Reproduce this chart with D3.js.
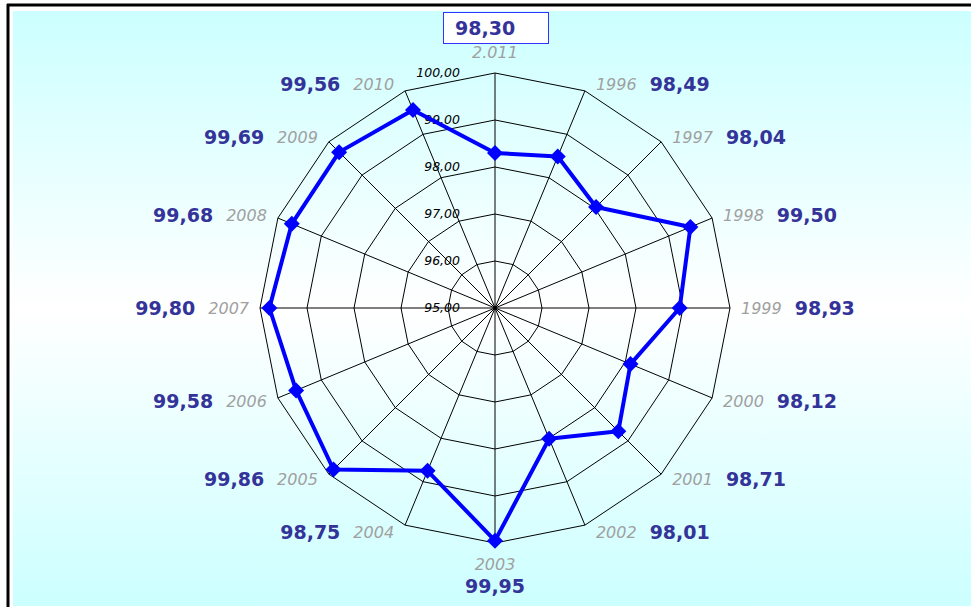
<!DOCTYPE html>
<html><head><meta charset="utf-8">
<script src="https://cdn.jsdelivr.net/npm/d3@7/dist/d3.min.js"></script>
<style>html,body{margin:0;padding:0;background:#fff;}svg{display:block;}</style>
</head><body>
<svg id="c" width="971" height="607"></svg>
<script>
const categories = ["2.011","1996","1997","1998","1999","2000","2001","2002","2003","2004","2005","2006","2007","2008","2009","2010"];
const values = [98.30,98.49,98.04,99.50,98.93,98.12,98.71,98.01,99.95,98.75,99.86,99.58,99.80,99.68,99.69,99.56];
const valueLabels = ["98,30","98,49","98,04","99,50","98,93","98,12","98,71","98,01","99,95","98,75","99,86","99,58","99,80","99,68","99,69","99,56"];
const ticks = [95,96,97,98,99,100];
const tickLabels = ["95,00","96,00","97,00","98,00","99,00","100,00"];

const svg = d3.select("#c");
const cx = 495, cy = 308, R = 235;

const defs = svg.append("defs");
const g = defs.append("linearGradient").attr("id","bg").attr("x1",0).attr("y1",0).attr("x2",0).attr("y2",1);
g.append("stop").attr("offset","0%").attr("stop-color","#ccffff");
g.append("stop").attr("offset","50%").attr("stop-color","#ffffff");
g.append("stop").attr("offset","100%").attr("stop-color","#ccffff");

svg.append("rect").attr("x",13).attr("y",11).attr("width",958).attr("height",595).attr("fill","url(#bg)");
svg.append("line").attr("x1",7).attr("x2",971).attr("y1",5).attr("y2",5).attr("stroke","#000").attr("stroke-width",3);
svg.append("line").attr("x1",8).attr("x2",8).attr("y1",4).attr("y2",607).attr("stroke","#000").attr("stroke-width",3);

const r = d3.scaleLinear().domain([95,100]).range([0,R]);
const ang = d3.scalePoint().domain(categories).range([0, 2*Math.PI*(categories.length-1)/categories.length]);
const pt = (c, v) => { const a = ang(c); return [cx + r(v)*Math.sin(a), cy - r(v)*Math.cos(a)]; };

const chart = svg.append("g");
// rings
ticks.slice(1).forEach(t => {
  chart.append("path")
    .attr("d", d3.line()(categories.map(c => pt(c, t))) + "Z")
    .attr("fill","none").attr("stroke","#000").attr("stroke-width",1);
});
// spokes
categories.forEach(c => {
  const p = pt(c, 100);
  chart.append("line").attr("x1",cx).attr("y1",cy).attr("x2",p[0]).attr("y2",p[1])
    .attr("stroke","#000").attr("stroke-width",1);
});
// tick labels
ticks.forEach((t,i) => {
  chart.append("text").attr("x", cx-35).attr("y", cy - r(t)).attr("dy","0.35em")
    .attr("text-anchor","end").attr("font-family","DejaVu Sans").attr("font-style","italic")
    .attr("font-size",12.5).attr("fill","#000").text(tickLabels[i]);
});
// series line
const pts = categories.map((c,i) => pt(c, values[i]));
chart.append("path").attr("d", d3.line()(pts) + "Z")
  .attr("fill","none").attr("stroke","#0000ff").attr("stroke-width",4).attr("stroke-linejoin","round");
chart.selectAll("path.mk").data(pts).enter().append("path").attr("class","mk")
  .attr("transform", d => `translate(${d[0]},${d[1]})`)
  .attr("d", d3.symbol().type(d3.symbolDiamond2 || d3.symbolSquare).size(110)())
  .attr("fill","#0000ff");
chart.selectAll("path.mk").attr("d","M0,-8L8,0L0,8L-8,0Z");

// category & value labels
categories.forEach((c,i) => {
  const a = ang(c);
  const s = Math.sin(a), co = Math.cos(a);
  const v = pt(c, 100);
  if (i === 0) {
    svg.append("text").attr("x", cx).attr("y", 58).attr("text-anchor","middle")
      .attr("font-family","DejaVu Sans").attr("font-style","italic").attr("font-size",16)
      .attr("fill","#a0a0a0").text(c);
    svg.append("rect").attr("x",443.5).attr("y",12.5).attr("width",105).attr("height",31)
      .attr("fill","#fff").attr("stroke","#3333ff").attr("stroke-width",1);
    svg.append("text").attr("x",455).attr("y",35).attr("font-family","DejaVu Sans").attr("font-weight","bold")
      .attr("font-size",19).attr("fill","#333399").text(valueLabels[i]);
    return;
  }
  if (Math.abs(s) < 1e-6) {
    svg.append("text").attr("x", cx).attr("y", 570).attr("text-anchor","middle")
      .attr("font-family","DejaVu Sans").attr("font-style","italic").attr("font-size",16)
      .attr("fill","#a0a0a0").text(c);
    svg.append("text").attr("x", cx).attr("y", 593).attr("text-anchor","middle")
      .attr("font-family","DejaVu Sans").attr("font-weight","bold").attr("font-size",19)
      .attr("fill","#333399").text(valueLabels[i]);
    return;
  }
  const side = s > 0 ? 1 : -1;
  const x = v[0] + side*11;
  const y = v[1] - 7*co + 6;
  const yt = svg.append("text").attr("x", x).attr("y", y)
    .attr("text-anchor", side > 0 ? "start" : "end")
    .attr("font-family","DejaVu Sans").attr("font-style","italic").attr("font-size",16)
    .attr("fill","#a0a0a0").text(c);
  const w = yt.node().getComputedTextLength();
  svg.append("text").attr("x", x + side*(w+13)).attr("y", y + 1)
    .attr("text-anchor", side > 0 ? "start" : "end")
    .attr("font-family","DejaVu Sans").attr("font-weight","bold").attr("font-size",19)
    .attr("fill","#333399").text(valueLabels[i]);
});
</script>
</body></html>
